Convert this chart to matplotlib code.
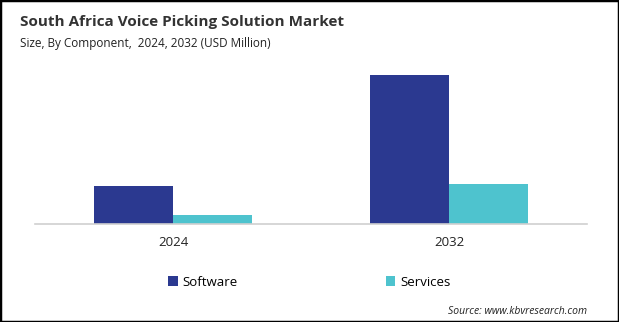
import matplotlib
matplotlib.use('Agg')
import matplotlib.pyplot as plt
from matplotlib.patches import Rectangle
import numpy as np

years = ['2024', '2032']
software = [38, 149]
services = [9, 40]
colors = {'Software': '#2B3990', 'Services': '#4EC3CE'}

plt.rcParams['font.family'] = ['Open Sans', 'DejaVu Sans']

W, H = 619, 322
fig = plt.figure(figsize=(W / 100, H / 100), dpi=100)
ax = fig.add_axes([35 / W, 98 / H, 552 / W, 164 / H])

x = np.arange(len(years))
bw = 0.286
ax.bar(x - bw / 2, software, width=bw, color=colors['Software'], label='Software')
ax.bar(x + bw / 2, services, width=bw, color=colors['Services'], label='Services')

ax.set_xlim(-0.5, 1.5)
ax.set_ylim(0, 164)
ax.set_xticks(x)
ax.set_xticklabels(years, fontsize=9.5, color='#222222')
ax.tick_params(axis='x', length=0, pad=9)
ax.set_yticks([])
for s in ['top', 'right', 'left']:
    ax.spines[s].set_visible(False)
ax.spines['bottom'].set_color('#D0D0D0')
ax.spines['bottom'].set_linewidth(1.2)

fig.text(20 / W, 1 - 22 / H, 'South Africa Voice Picking Solution Market',
         fontsize=11, fontweight='bold', color='#333333', va='center')
fig.text(20 / W, 1 - 44 / H, 'Size, By Component,  2024, 2032 (USD Million)',
         fontsize=8.5, color='#222222', va='center')

leg = fig.legend(loc='center', bbox_to_anchor=(0.5, 1 - 282 / H), ncol=2,
                 frameon=False, fontsize=9.5, handlelength=0.7, handleheight=0.7,
                 handletextpad=0.4, columnspacing=11.2)
fig.text(587 / W, 1 - 311 / H, 'Source: www.kbvresearch.com', fontsize=7.5,
         style='italic', color='#222222', ha='right', va='center')

fig.patches.append(Rectangle((0, 0), 1, 1, transform=fig.transFigure,
                             fill=False, edgecolor='black', linewidth=2.5))

fig.savefig('out.png', dpi=100)
